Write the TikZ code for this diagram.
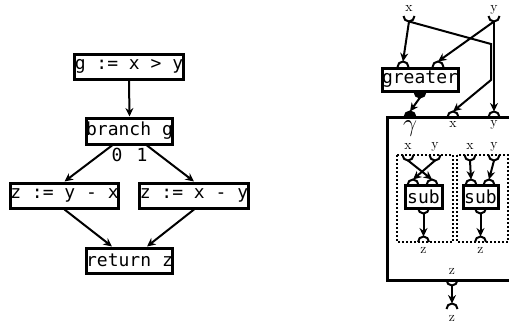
\documentclass[tikz,border=0pt]{standalone}
\usepackage{fontspec}
\newfontfamily\codefont{DejaVu Sans Mono}
\usetikzlibrary{arrows.meta}
\begin{document}
\begin{tikzpicture}[x=1pt,y=-1pt,
  codebox/.style={draw, line width=3pt, inner sep=0pt,
    font=\codefont\fontsize{18}{18}\selectfont},
  codetext/.style={inner sep=0pt, font=\codefont\fontsize{18}{18}\selectfont},
  flow/.style={line width=2pt, -{Stealth[length=8.5pt,width=8pt]}},
  portline/.style={line width=2pt},
  lbl/.style={inner sep=0pt, font=\fontsize{14}{14}\selectfont},
  region/.style={line width=3pt},
  subregion/.style={line width=2pt, dash pattern=on 2pt off 2pt},
  pics/outport/.style={code={
    \draw[portline] (-5.5,0) arc[start angle=180,end angle=0,radius=5.5];
    \coordinate (-end) at (0,5.5);}},
  pics/inport/.style={code={
    \draw[portline] (-5.5,0) arc[start angle=180,end angle=360,radius=5.5];
    \coordinate (-end) at (0,-5.5);}},
  pics/stateout/.style={code={
    \filldraw[portline] (-5.5,0) arc[start angle=180,end angle=0,radius=5.5] -- cycle;
    \coordinate (-end) at (0,5.5);}},
  pics/statein/.style={code={
    \filldraw[portline] (-5.5,0) arc[start angle=180,end angle=360,radius=5.5] -- cycle;
    \coordinate (-end) at (0,-5.5);}},
]
\useasboundingbox (0,0) rectangle (509,324);

% ---------------- control flow graph ----------------
\node[codebox, minimum width=106, minimum height=25] (assign) at (129,66.5) {g := x > y};
\node[codebox, minimum width=85, minimum height=26] (branch) at (129.5,131) {branch g};
\node[codetext] (lab0) at (117,155) {0};
\node[codetext] (lab1) at (142,155) {1};
\node[codebox, minimum width=105, minimum height=25] (left) at (64.5,195.5) {z := y - x};
\node[codebox, minimum width=106, minimum height=25] (right) at (194,195.5) {z := x - y};
\node[codebox, minimum width=85, minimum height=25] (ret) at (129.5,260.5) {return z};

\draw[flow] (assign.south) -- (branch.north);
\draw[flow] ([xshift=-17.5pt]branch.south) -- (left.north);
\draw[flow] ([xshift=17.5pt]branch.south) -- (right.north);
\draw[flow] (left.south) -- ([xshift=-17.5pt]ret.north);
\draw[flow] (right.south) -- ([xshift=17.5pt]ret.north);

% ---------------- dataflow graph ----------------
% function arguments
\node[lbl] (argxl) at (409,8) {x};
\node[lbl] (argyl) at (494,9.5) {y};
\pic (argx) at (409,16) {outport};
\pic (argy) at (494,16) {outport};

% comparison node
\node[codebox, minimum width=76, minimum height=23] (greater) at (420,79.5) {greater};
\pic (gin1) at (403,67) {inport};
\pic (gin2) at (438,67) {inport};
\pic (gout) at (420,92) {stateout};

% gamma node
\draw[region] (387,117) rectangle (525,280);
\pic (gpred) at (410,117) {statein};
\pic (gx) at (453,117) {inport};
\pic (gy) at (494,117) {inport};
\node[inner sep=0pt, font=\fontsize{25}{25}\selectfont] (gammal) at (410,129) {$\gamma$};
\node[lbl] (gxl) at (453,124) {x};
\node[lbl] (gyl) at (494,125) {y};

\coordinate (bendA) at (491,44);
\coordinate (bendB) at (491,80);
\draw[flow] (argx-end) -- (gin1-end);
\draw[flow] (argy-end) -- (gin2-end);
\draw[flow] (argx-end) -- (bendA) -- (bendB) -- (gx-end);
\draw[flow] (argy-end) -- (gy-end);
\draw[flow] (gout-end) -- (gpred-end);

% first branch region
\draw[subregion] (397,155) rectangle (453,242);
\node[lbl] (r1xl) at (408,146) {x};
\node[lbl] (r1yl) at (435,147) {y};
\pic (r1x) at (408,155) {outport};
\pic (r1y) at (435,155) {outport};
\node[codebox, minimum width=37, minimum height=23] (sub1) at (423.5,196.5) {sub};
\pic (s1a) at (413,185) {inport};
\pic (s1b) at (432,185) {inport};
\pic (s1o) at (423.5,208) {outport};
\pic (r1z) at (423.5,242) {inport};
\node[lbl] (r1zl) at (423.5,250) {z};
\draw[flow] (r1x-end) -- (s1b-end);
\draw[flow] (r1y-end) -- (s1a-end);
\draw[flow] (s1o-end) -- (r1z-end);

% second branch region
\draw[subregion] (457,155) rectangle (508,242);
\node[lbl] (r2xl) at (470,146) {x};
\node[lbl] (r2yl) at (494,147) {y};
\pic (r2x) at (470,155) {outport};
\pic (r2y) at (494,155) {outport};
\node[codebox, minimum width=35, minimum height=23] (sub2) at (480.5,196.5) {sub};
\pic (s2a) at (471,185) {inport};
\pic (s2b) at (489,185) {inport};
\pic (s2o) at (480.5,208) {outport};
\pic (r2z) at (480.5,242) {inport};
\node[lbl] (r2zl) at (480.5,250) {z};
\draw[flow] (r2x-end) -- (s2a-end);
\draw[flow] (r2y-end) -- (s2b-end);
\draw[flow] (s2o-end) -- (r2z-end);

% gamma result and function result
\node[lbl] (gzl) at (452,271) {z};
\pic (gz) at (452,280) {outport};
\pic (resz) at (452,309) {inport};
\node[lbl] (reszl) at (452,318) {z};
\draw[flow] (gz-end) -- (resz-end);
\end{tikzpicture}
\end{document}
